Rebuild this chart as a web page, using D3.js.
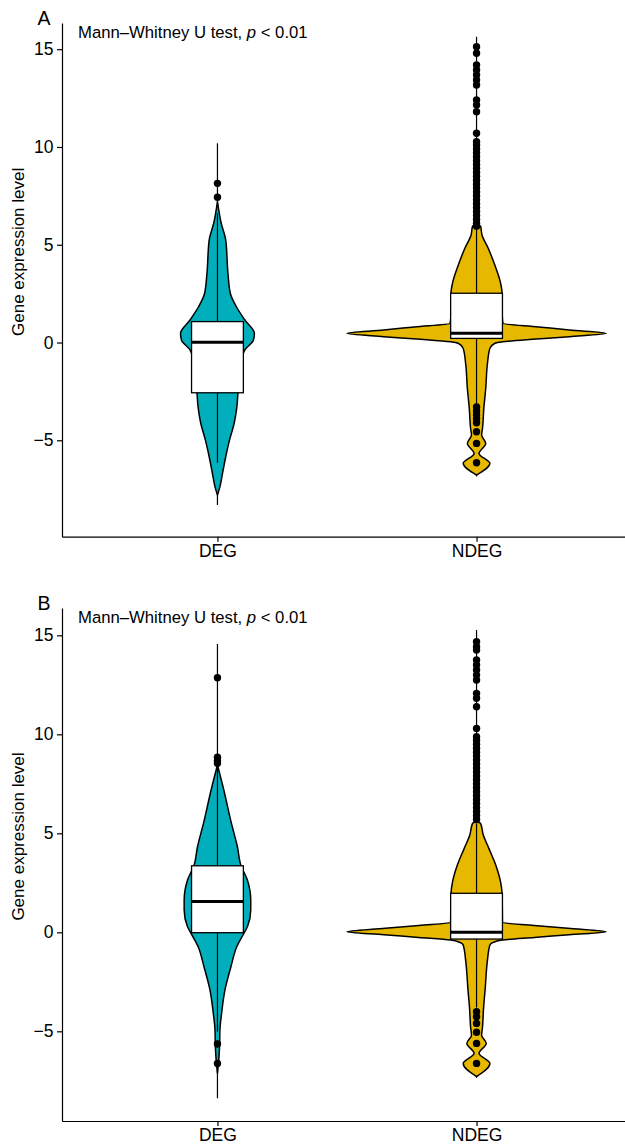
<!DOCTYPE html>
<html>
<head>
<meta charset="utf-8">
<script src="https://cdn.jsdelivr.net/npm/d3@7"></script>
<style>
  body { margin: 0; background: #fff; }
  svg { display: block; }
  text { font-family: "Liberation Sans", Arial, sans-serif; fill: #000; }
</style>
</head>
<body>
<svg id="chart" width="625" height="1146"></svg>
<script>
// ---- data ----
var categories = ["DEG", "NDEG"];
var fills = ["#00AFBB", "#E7B800"];
var yTicks = [-5, 0, 5, 10, 15];
var panelLabels = ["A", "B"];
var testText = "Mann\u2013Whitney U test, ";
var pText = "p";
var pValue = " < 0.01";
var yTitle = "Gene expression level";

// y limits of each panel
var yLimA = [-9.93, 16.34];
var yLimB = [-9.53, 16.38];

// violin outlines: value / relative density (NDEG peak = 1)
var degA_values  = [7.2, 6.1, 5.24, 3.54, 2.52, 1.83, 1.15, 0.47, 0.13, -0.38, -0.55, -1.5, -2.6, -3.28, -4.13, -4.99, -5.84, -6.69, -7.38, -7.8];
var degA_density = [0, .029, .064, .081, .099, .146, .212, .285, .278, .212, .200, .177, .158, .150, .129, .093, .064, .039, .019, 0];

var ndegA_values  = [6.05, 5.95, 5.5, 4.82, 3.96, 3.11, 2.52, 2.0, 1.3, 0.98, 0.8, 0.64, 0.47, 0.3, 0.18, 0.04, -0.05, -0.3, -1.15, -2.34, -3.37, -4.39, -4.73, -5.16, -5.67, -6.18, -6.78];
var ndegA_density = [0, .031, .042, .090, .141, .183, .197, .197, .199, .204, .478, .717, 1, .717, .463, .200, .139, .103, .083, .071, .056, .046, .039, .071, .019, .103, 0];

var degB_values  = [8.45, 7.19, 5.5, 4.32, 3.4, 2.64, 1.63, 1.13, 0.28, -0.05, -0.73, -1.74, -2.91, -4.09, -4.93, -5.61, -6.28, -7.12];
var degB_density = [0, .049, .108, .154, .180, .231, .257, .257, .231, .204, .149, .104, .058, .032, .019, .017, .012, 0];

var ndegB_values  = [5.6, 5.5, 4.91, 4.24, 3.4, 2.56, 1.97, 1.2, 0.49, 0.35, 0.2, 0.03, -0.12, -0.26, -0.39, -0.5, -0.64, -1.48, -2.83, -3.84, -4.85, -5.2, -5.61, -6.11, -6.62, -7.29];
var ndegB_density = [0, .031, .052, .095, .148, .185, .197, .199, .200, .444, .705, 1, .715, .447, .200, .131, .103, .083, .067, .054, .045, .039, .075, .019, .103, 0];

// box stats: [lower whisker, Q1, median, Q3, upper whisker]
var degA_box  = [-6.15, -2.57, 0.01, 1.07, 6.6];
var ndegA_box = [-3.26, 0.21, 0.47, 2.52, 5.92];
var degB_box  = [-5.02, -0.02, 1.55, 3.36, 8.4];
var ndegB_box = [-3.8, -0.34, 0.0, 1.97, 5.5];

// full min..max line behind each violin
var degA_range  = [-8.31, 10.19];
var ndegA_range = [-6.85, 15.64];
var degB_range  = [-8.38, 14.56];
var ndegB_range = [-7.35, 15.27];

// outliers
var degA_out  = [8.14, 7.43];
var ndegA_out = [15.13, 14.79, 14.19, 13.94, 13.68, 13.43, 13.17, 12.4, 12.15, 11.8, 10.7,
                 10.27, 10.1, 9.9, 9.7, 9.5, 9.3, 9.1, 8.9, 8.7, 8.5, 8.3, 8.1, 7.9, 7.7, 7.5,
                 7.3, 7.1, 6.9, 6.7, 6.5, 6.3, 6.1, 5.95,
                 -3.3, -3.5, -3.7, -3.9, -4.1, -4.56, -5.16, -6.15];
var degB_out  = [12.86, 8.84, 8.67, 8.54, -5.64, -6.62];
var ndegB_out = [14.68, 14.42, 14.26, 13.75, 13.5, 13.25, 12.99, 12.74, 12.07, 11.82, 11.39, 10.3,
                 9.88, 9.7, 9.5, 9.3, 9.1, 8.9, 8.7, 8.5, 8.3, 8.1, 7.9, 7.7, 7.5, 7.3, 7.1,
                 6.9, 6.7, 6.5, 6.3, 6.1, 5.9, 5.7,
                 -4.01, -4.26, -4.6, -5.05, -5.61, -6.62];

// ---- drawing ----
var svg = d3.select("#chart");

var panels = [
  { label: panelLabels[0], top: 23, bottom: 536.7, yLim: yLimA,
    violins: [d3.zip(degA_values, degA_density), d3.zip(ndegA_values, ndegA_density)],
    boxes: [degA_box, ndegA_box], ranges: [degA_range, ndegA_range], outs: [degA_out, ndegA_out] },
  { label: panelLabels[1], top: 608, bottom: 1121, yLim: yLimB,
    violins: [d3.zip(degB_values, degB_density), d3.zip(ndegB_values, ndegB_density)],
    boxes: [degB_box, ndegB_box], ranges: [degB_range, ndegB_range], outs: [degB_out, ndegB_out] }
];

function drawPanel(p) {
  var g = svg.append("g");
  var x = d3.scalePoint().domain(categories).range([62, 632]).padding(0.6);
  var y = d3.scaleLinear().domain(p.yLim).range([p.bottom, p.top]);
  var step = x.step();
  var w = d3.scaleLinear().domain([0, 1]).range([0, step * 0.5]);
  var boxW = step * 0.2;

  categories.forEach(function(cat, i) {
    var cx = x(cat);
    var b = p.boxes[i];

    // min-max line
    g.append("line")
      .attr("x1", cx).attr("x2", cx)
      .attr("y1", y(p.ranges[i][0])).attr("y2", y(p.ranges[i][1]))
      .attr("stroke", "#000").attr("stroke-width", 1.2);

    // violin
    var area = d3.area()
      .curve(d3.curveMonotoneY)
      .y(function(d) { return y(d[0]); })
      .x0(function(d) { return cx - w(d[1]); })
      .x1(function(d) { return cx + w(d[1]); });
    g.append("path")
      .attr("d", area(p.violins[i]))
      .attr("fill", fills[i])
      .attr("stroke", "#000")
      .attr("stroke-width", 1.5)
      .attr("stroke-linejoin", "round");

    // whiskers
    g.append("line").attr("x1", cx).attr("x2", cx)
      .attr("y1", y(b[3])).attr("y2", y(b[4]))
      .attr("stroke", "#000").attr("stroke-width", 1.2);
    g.append("line").attr("x1", cx).attr("x2", cx)
      .attr("y1", y(b[1])).attr("y2", y(b[0]))
      .attr("stroke", "#000").attr("stroke-width", 1.2);

    // box
    g.append("rect")
      .attr("x", cx - boxW / 2).attr("width", boxW)
      .attr("y", y(b[3])).attr("height", y(b[1]) - y(b[3]))
      .attr("fill", "#fff").attr("stroke", "#000").attr("stroke-width", 1.3);
    g.append("line")
      .attr("x1", cx - boxW / 2).attr("x2", cx + boxW / 2)
      .attr("y1", y(b[2])).attr("y2", y(b[2]))
      .attr("stroke", "#000").attr("stroke-width", 3);

    // outliers
    g.selectAll(null).data(p.outs[i]).join("circle")
      .attr("cx", cx).attr("cy", function(d) { return y(d); })
      .attr("r", 3.7).attr("fill", "#000");
  });

  // axes
  var yAxis = g.append("g")
    .attr("transform", "translate(62,0)")
    .call(d3.axisLeft(y).tickValues(yTicks).tickSize(5).tickSizeOuter(0).tickPadding(3.5));
  var xAxis = g.append("g")
    .attr("transform", "translate(0," + p.bottom + ")")
    .call(d3.axisBottom(x).tickSize(5).tickSizeOuter(0).tickPadding(3));
  [yAxis, xAxis].forEach(function(a) {
    a.select(".domain").attr("stroke", "#000").attr("stroke-width", 1.2);
    a.selectAll(".tick line").attr("stroke", "#000").attr("stroke-width", 1.2);
    a.selectAll(".tick text").attr("font-size", 17.5).attr("fill", "#000")
      .style("font-family", '"Liberation Sans", Arial, sans-serif');
  });

  // y title
  var midY = (p.top + p.bottom) / 2 - 28;
  g.append("text")
    .attr("transform", "translate(23.5," + midY + ") rotate(-90)")
    .attr("text-anchor", "middle")
    .attr("font-size", 17)
    .text(yTitle);

  // panel label
  g.append("text")
    .attr("x", 37.5).attr("y", p.top + 2)
    .attr("font-size", 19.5)
    .text(p.label);

  // test annotation
  var t = g.append("text")
    .attr("x", 78).attr("y", p.top + 14.5)
    .attr("font-size", 16.7);
  t.append("tspan").text(testText);
  t.append("tspan").attr("font-style", "italic").text(pText);
  t.append("tspan").text(pValue);
}

panels.forEach(drawPanel);
</script>
</body>
</html>
